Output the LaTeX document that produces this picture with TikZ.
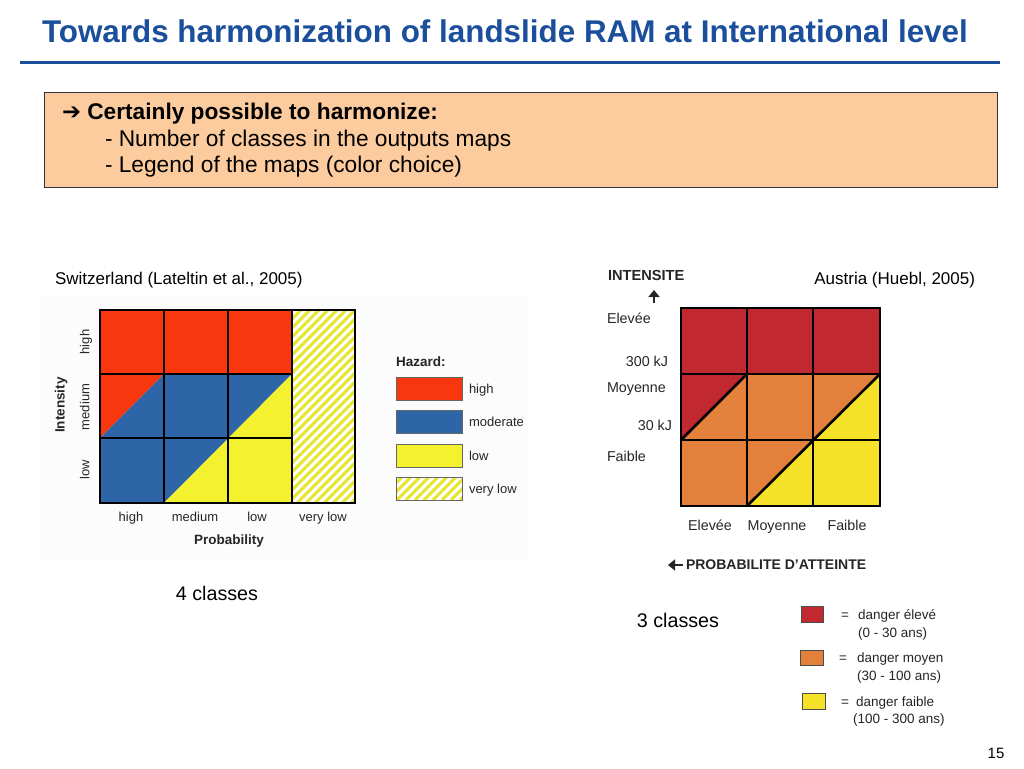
\documentclass[tikz,border=0pt]{standalone}
\usepackage{fontspec}
\usetikzlibrary{arrows.meta}
\setmainfont{Liberation Sans}
\newfontfamily\dejavu{DejaVu Sans}
\definecolor{titleblue}{HTML}{1B4F9C}
\definecolor{boxfill}{HTML}{FDCC9E}
\definecolor{sred}{HTML}{F8370E}
\definecolor{sblue}{HTML}{2D65A6}
\definecolor{syellow}{HTML}{F4F22E}
\definecolor{ared}{HTML}{C1282F}
\definecolor{aorange}{HTML}{E2803C}
\definecolor{ayellow}{HTML}{F6E228}
\begin{document}
\begin{tikzpicture}[x=1pt,y=-1pt,
  every node/.style={inner sep=0pt, outer sep=0pt},
  fs/.style={font=\fontsize{#1}{#1}\selectfont, text height=0.72*#1, text depth=0.2*#1},
  fsb/.style={font=\fontsize{#1}{#1}\selectfont\bfseries, text height=0.72*#1, text depth=0.2*#1},
  sgrid/.style={line width=1.3pt, draw=black},
  agrid/.style={line width=2.6pt, draw=black},
  slab/.style={fs=13, text=black!85},
  slabb/.style={fsb=13.5, text=black!85},
  alab/.style={fs=14.3, text=black!85},
  alabb/.style={fsb=14.6, text=black!85},
  barrow/.style={line width=2.8pt, black!85, -{Triangle[width=11pt,length=7pt]}}]
\useasboundingbox[fill=white] (0,0) rectangle (1024,768);

% title
\node[anchor=west, fsb=31.4, text=titleblue] (title) at (42,34) {Towards harmonization of landslide RAM at International level};
\draw[titleblue, line width=3pt] (20,62) -- (1000,62);

% box
\node[draw=black!80, line width=0.8pt, fill=boxfill, minimum width=953pt, minimum height=95pt, anchor=north west] (box) at (44,92) {};
\node[anchor=west, fs=22.7] (l1) at (62,114) {{\dejavu\bfseries ➔} \textbf{Certainly possible to harmonize:}};
\node[anchor=west, fs=22.7] (l2) at (105,141) {- Number of classes in the outputs maps};
\node[anchor=west, fs=22.7] (l3) at (105,167) {- Legend of the maps (color choice)};

% captions
\node[anchor=west, fs=17] (sw) at (55,280) {Switzerland (Lateltin et al., 2005)};
\node[anchor=east, fs=17] (au) at (975,280) {Austria (Huebl, 2005)};
\node[fs=19.7] (c4) at (217,595) {4 classes};
\node[fs=19.7] (c3) at (678,622) {3 classes};
\node[fs=15] (pg) at (996,755) {15};

% ---------- Switzerland matrix ----------
\fill[black!1.2] (40,296) rectangle (528,560);
\fill[sred] (100,310) rectangle (292,374);
\fill[sred] (100,374) -- (164,374) -- (100,438) -- cycle;
\fill[sblue] (164,374) -- (292,374) -- (164,503) -- (100,503) -- (100,438) -- cycle;
\fill[syellow] (292,374) -- (292,503) -- (164,503) -- cycle;
% hatched column
\begin{scope}
\clip (292,310) rectangle (355,503);
\fill[white] (292,310) rectangle (355,503);
\foreach \i in {0,...,30} {
  \draw[syellow!95!black, line width=3pt] (\i*9+90,503) -- (\i*9+90+200,303);
}
\end{scope}
\draw[sgrid] (100,310) rectangle (355,503);
\foreach \x in {164,228,292} \draw[sgrid] (\x,310) -- (\x,503);
\draw[sgrid] (100,374) -- (292,374);
\draw[sgrid] (100,438) -- (292,438);

\node[slab, rotate=90] (ih) at (86,342) {high};
\node[slab, rotate=90] (im) at (86,407) {medium};
\node[slab, rotate=90] (il) at (86,470) {low};
\node[slabb, rotate=90] (int) at (61,405) {Intensity};
\node[slab] (ph) at (131,518) {high};
\node[slab] (pm) at (195,518) {medium};
\node[slab] (pl) at (257,518) {low};
\node[slab] (pv) at (323,518) {very low};
\node[slabb] (prob) at (229,541) {Probability};

% legend
\node[slabb, anchor=west] (hz) at (396,363) {Hazard:};
\fill[sred, draw=black!60] (396,377) rectangle (462,400);
\fill[sblue, draw=black!60] (396,410) rectangle (462,433);
\fill[syellow, draw=black!60] (396,444) rectangle (462,467);
\begin{scope}
\clip (396,477) rectangle (462,500);
\fill[white] (396,477) rectangle (462,500);
\foreach \i in {0,...,14} \draw[syellow!95!black, line width=3pt] (\i*9+370,500) -- (\i*9+370+25,475);
\end{scope}
\draw[black!60] (396,477) rectangle (462,500);
\begin{scope}
\clip (464,370) rectangle (523,510);
\node[slab, anchor=west] (lh) at (469,390) {high};
\node[slab, anchor=west] (lm) at (469,423) {moderate};
\node[slab, anchor=west] (ll) at (469,457) {low};
\node[slab, anchor=west] (lv) at (469,490) {very low};
\end{scope}

% ---------- Austria matrix ----------
\fill[ared] (681,308) rectangle (880,374);
\fill[ared] (681,374) -- (747,374) -- (681,440) -- cycle;
\fill[aorange] (747,374) -- (880,374) -- (747,506) -- (681,506) -- (681,440) -- cycle;
\fill[ayellow] (880,374) -- (880,506) -- (747,506) -- cycle;
\draw[agrid] (681,308) rectangle (880,506);
\foreach \x in {747,813} \draw[agrid] (\x,308) -- (\x,506);
\draw[agrid] (681,374) -- (880,374);
\draw[agrid] (681,440) -- (880,440);
\draw[agrid] (681,440) -- (747,374);
\draw[agrid] (747,506) -- (880,374);

\node[alabb, anchor=west] (ai) at (608,277) {INTENSITE};
\coordinate (upS) at (654,303);
\coordinate (upE) at (654,290);
\draw[barrow] (upS) -- (upE);
\node[alab, anchor=west] (ae) at (607,320) {Elevée};
\node[alab, anchor=east] (a300) at (668,363) {300 kJ};
\node[alab, anchor=west] (am) at (607,389) {Moyenne};
\node[alab, anchor=east] (a30) at (672,427) {30 kJ};
\node[alab, anchor=west] (af) at (607,458) {Faible};
\node[alab] (be) at (710,527) {Elevée};
\node[alab] (bm) at (777,527) {Moyenne};
\node[alab] (bf) at (847,527) {Faible};
\coordinate (ltS) at (683,565);
\coordinate (ltE) at (668,565);
\draw[barrow] (ltS) -- (ltE);
\node[alabb, fsb=14, anchor=west] (pa) at (686,566) {PROBABILITE D'ATTEINTE};

% legend
\fill[ared, draw=black!70] (801,606) rectangle (823,622);
\fill[aorange, draw=black!70] (800,650) rectangle (823,665);
\fill[ayellow, draw=black!70] (802,693) rectangle (825,709);
\node[alab, fs=13.5] (eq1) at (845,616) {=};
\node[alab, fs=13.5] (eq2) at (843,659) {=};
\node[alab, fs=13.5] (eq3) at (845,703) {=};
\node[alab, fs=13.5, anchor=west] (d1) at (858,616) {danger élevé};
\node[alab, fs=13.5, anchor=west] (d1b) at (858,634) {(0 - 30 ans)};
\node[alab, fs=13.5, anchor=west] (d2) at (857,659) {danger moyen};
\node[alab, fs=13.5, anchor=west] (d2b) at (857,677) {(30 - 100 ans)};
\node[alab, fs=13.5, anchor=west] (d3) at (856,703) {danger faible};
\node[alab, fs=13.5, anchor=west] (d3b) at (853,720) {(100 - 300 ans)};
\end{tikzpicture}
\end{document}
